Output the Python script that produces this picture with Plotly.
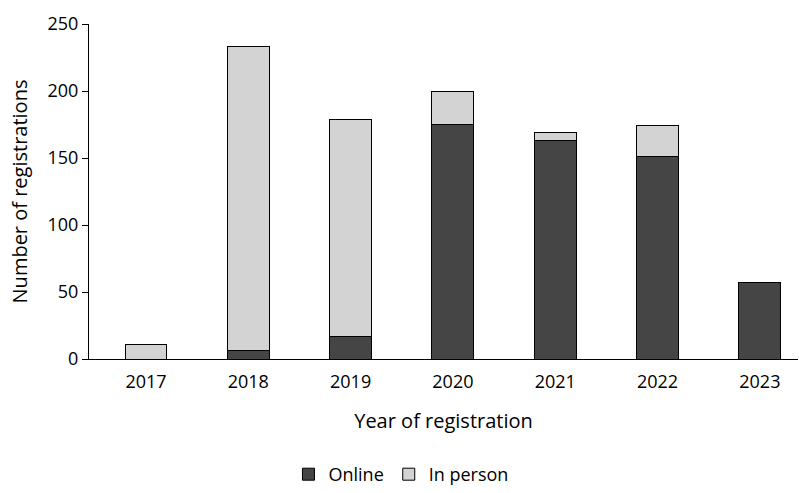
import plotly.graph_objects as go

years = ["2017", "2018", "2019", "2020", "2021", "2022", "2023"]
online = [0, 6, 17, 175, 163, 151, 57]
in_person = [11, 227, 162, 25, 6, 23, 0]

font_family = "Open Sans, Lato, sans-serif"

fig = go.Figure()
fig.add_trace(go.Bar(x=years, y=online, name="Online",
                     marker=dict(color="#454545", line=dict(color="#000000", width=1))))
fig.add_trace(go.Bar(x=years, y=in_person, name="In person",
                     marker=dict(color="#d3d3d3", line=dict(color="#000000", width=1))))

fig.update_layout(
    barmode="stack",
    bargap=0.59,
    width=799, height=493,
    margin=dict(l=89, r=1, t=24, b=134, autoexpand=False),
    plot_bgcolor="white", paper_bgcolor="white",
    font=dict(family=font_family, size=18, color="#000000"),
    legend=dict(orientation="h", x=0.44, xanchor="center", y=-0.4, yanchor="bottom",
                font=dict(size=18), traceorder="normal", itemwidth=30),
    xaxis=dict(showline=True, linecolor="#000000", linewidth=1, ticks="",
               automargin=False, range=[-0.557, 6.373],
               ticklabelstandoff=6,
               title=dict(text="Year of registration", font=dict(size=20), standoff=22),
               tickfont=dict(size=18)),
    yaxis=dict(range=[0, 250], tickvals=[0, 50, 100, 150, 200, 250],
               showline=True, linecolor="#000000", linewidth=1,
               ticks="outside", ticklen=6, tickcolor="#000000",
               showgrid=False, zeroline=False, automargin=False,
               title=dict(text="Number of registrations", font=dict(size=20), standoff=14),
               tickfont=dict(size=18)),
)

fig.write_html("out.html")
